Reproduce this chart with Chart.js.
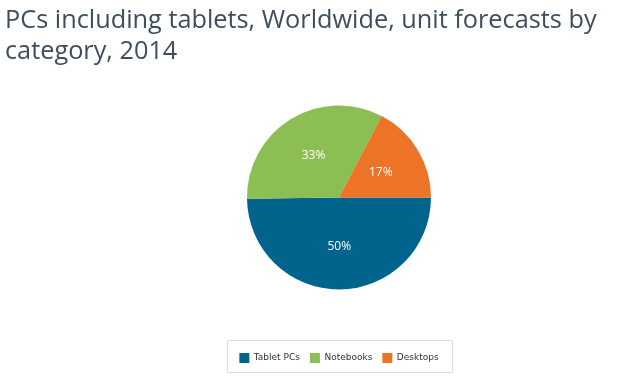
<!DOCTYPE html>
<html><head><meta charset="utf-8">
<script src="https://cdn.jsdelivr.net/npm/chart.js@4/dist/chart.umd.min.js"></script>
<style>
html,body{margin:0;padding:0;background:#fff}
#wrap{width:640px;height:386px;position:relative;overflow:hidden}
#title{position:absolute;left:5px;top:3px;font-family:"Open Sans",sans-serif;font-size:25.3px;line-height:31px;color:#3e4e5e;white-space:nowrap;margin:0;font-weight:normal}
canvas{position:absolute;left:0;top:0}
</style>
</head><body><div id="wrap"><canvas id="c" width="640" height="386"></canvas><h1 id="title"></h1></div>
<script>
const categories = ["Tablet PCs", "Notebooks", "Desktops"];
const shares = [49.8, 32.9, 17.3];
const shareLabels = ["50%", "33%", "17%"];
const colors = ["#00648c", "#8cbf53", "#ed7327"];
const titleLines = ["PCs including tablets, Worldwide, unit forecasts by", "category, 2014"];

document.getElementById('title').innerHTML = titleLines.join('<br>');

const sliceLabels = {
  id: 'sliceLabels',
  afterDatasetsDraw(chart) {
    const ctx = chart.ctx;
    const meta = chart.getDatasetMeta(0);
    ctx.save();
    ctx.fillStyle = '#ffffff';
    ctx.font = '12px "Open Sans", sans-serif';
    ctx.textAlign = 'center';
    ctx.textBaseline = 'middle';
    meta.data.forEach((arc, i) => {
      const mid = (arc.startAngle + arc.endAngle) / 2;
      const r = arc.outerRadius * 0.53;
      ctx.fillText(shareLabels[i], arc.x + Math.cos(mid) * r, arc.y + Math.sin(mid) * r);
    });
    ctx.restore();
  }
};
const legendBox = {
  id: 'legendBox',
  afterDraw(chart) {
    const boxes = chart.legend.legendHitBoxes;
    if (!boxes || !boxes.length) return;
    let l = Infinity, r = -Infinity, t = Infinity, b = -Infinity;
    boxes.forEach(h => { l = Math.min(l, h.left); r = Math.max(r, h.left + h.width); t = Math.min(t, h.top); b = Math.max(b, h.top + h.height); });
    const ctx = chart.ctx;
    ctx.save();
    ctx.strokeStyle = '#dddddd';
    ctx.lineWidth = 1;
    ctx.strokeRect(Math.round(l - 12) + 0.5, Math.round(t - 13) + 0.5, Math.round(r - l + 26), Math.round(b - t + 22));
    ctx.restore();
  }
};

new Chart(document.getElementById('c'), {
  type: 'pie',
  data: { labels: categories, datasets: [{ data: shares, backgroundColor: colors, borderColor: '#ffffff', borderWidth: 0 }] },
  options: {
    responsive: false, animation: false,
    rotation: 90,
    radius: 92,
    layout: { padding: { left: 38, right: 0, top: 52, bottom: 13 } },
    plugins: {
      title: { display: false },
      legend: { position: 'bottom', labels: { boxWidth: 10, boxHeight: 10, padding: 10, color: '#333', font: { family: '"DejaVu Sans", sans-serif', size: 9 } } },
      tooltip: { enabled: false }
    }
  },
  plugins: [sliceLabels, legendBox]
});
</script></body></html>
